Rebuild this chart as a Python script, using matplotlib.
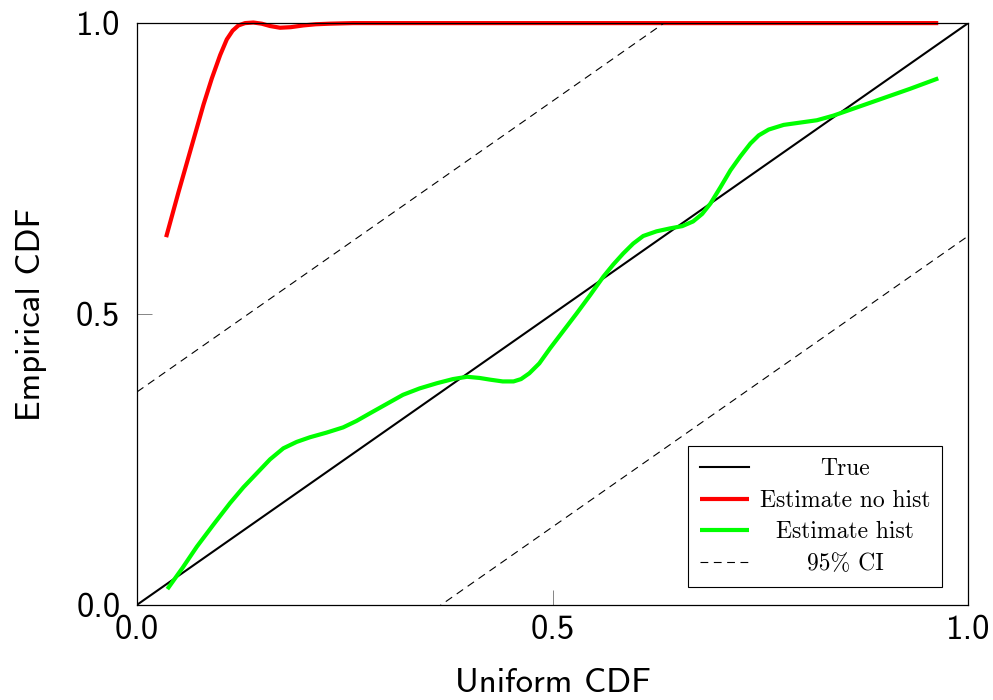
import matplotlib
matplotlib.use("Agg")
import matplotlib.pyplot as plt
from matplotlib.offsetbox import VPacker

# reference diagonal and 95% band (end points, axes clip the rest)
true_x = [0.0, 1.0]
true_y = [0.0, 1.0]
ci_upper = [0.366, 1.366]
ci_lower = [-0.366, 0.634]

# estimate without histogram correction
red_x = [0.035, 0.05, 0.065, 0.08, 0.09, 0.10, 0.108, 0.115, 0.122, 0.130,
         0.140, 0.150, 0.160, 0.172, 0.185, 0.200, 0.215, 0.232, 0.26, 0.964]
red_y = [0.632, 0.71, 0.785, 0.86, 0.905, 0.945, 0.972, 0.987, 0.996, 1.0,
         1.001, 0.999, 0.995, 0.992, 0.993, 0.996, 0.998, 0.999, 1.0, 1.0]

# estimate with histogram correction
green_x = [0.0365, 0.055, 0.072, 0.092, 0.112, 0.128, 0.144, 0.160, 0.176, 0.192,
           0.208, 0.228, 0.248, 0.264, 0.280, 0.300, 0.320, 0.340, 0.361, 0.380,
           0.397, 0.412, 0.425, 0.440, 0.453, 0.462, 0.472, 0.484, 0.497, 0.513,
           0.529, 0.545, 0.561, 0.573, 0.585, 0.597, 0.609, 0.625, 0.641, 0.656,
           0.669, 0.680, 0.690, 0.702, 0.714, 0.726, 0.738, 0.748, 0.760, 0.778,
           0.798, 0.818, 0.838, 0.858, 0.894, 0.930, 0.964]
green_y = [0.027, 0.064, 0.100, 0.138, 0.175, 0.202, 0.226, 0.250, 0.269, 0.280,
           0.288, 0.296, 0.305, 0.316, 0.329, 0.345, 0.361, 0.372, 0.381, 0.388,
           0.392, 0.390, 0.387, 0.384, 0.384, 0.388, 0.398, 0.415, 0.441, 0.471,
           0.501, 0.532, 0.564, 0.585, 0.604, 0.621, 0.634, 0.642, 0.647, 0.651,
           0.659, 0.672, 0.690, 0.718, 0.747, 0.771, 0.793, 0.807, 0.817, 0.825,
           0.829, 0.833, 0.841, 0.851, 0.869, 0.887, 0.905]

ticks = [0.0, 0.5, 1.0]
tick_labels = ["0.0", "0.5", "1.0"]

sans = "cmss10"
serif = "cmr10"

fig = plt.figure(figsize=(9.93, 7.0), dpi=100)
ax = fig.add_axes([0.138, 0.136, 0.837, 0.831])

ax.plot(true_x, true_y, color="black", lw=1.5, label="True")
ax.plot(red_x, red_y, color="red", lw=3, label="Estimate no hist",
        clip_on=False, solid_capstyle="butt", solid_joinstyle="round")
ax.plot(green_x, green_y, color="#00ff00", lw=3, label="Estimate hist",
        solid_capstyle="butt", solid_joinstyle="round")
ax.plot(true_x, ci_upper, color="black", lw=0.8, ls=(0, (7, 5)), label="95% CI")
ax.plot(true_x, ci_lower, color="black", lw=0.8, ls=(0, (7, 5)))

ax.set_xlim(0, 1)
ax.set_ylim(0, 1)
ax.set_xticks(ticks)
ax.set_yticks(ticks)
ax.set_xticklabels(tick_labels, family=sans, fontsize=25)
ax.set_yticklabels(tick_labels, family=sans, fontsize=25)
ax.tick_params(axis="both", direction="in", length=11, width=0.5, color="#555555")
ax.tick_params(axis="x", pad=7)
ax.tick_params(axis="y", pad=12)
for s in ax.spines.values():
    s.set_linewidth(0.9)

ax.set_xlabel("Uniform CDF", family=sans, fontsize=25, labelpad=16)
ax.set_ylabel("Empirical CDF", family=sans, fontsize=25, labelpad=21)

leg = ax.legend(loc="lower right", bbox_to_anchor=(0.9687, 0.0309), borderaxespad=0,
                prop={"family": serif, "size": 17}, fancybox=False, framealpha=1,
                edgecolor="black", handlelength=2.1, handletextpad=0.45,
                borderpad=0.5, labelspacing=0.4)
leg.get_frame().set_linewidth(0.8)

# center the legend entries inside a common text column
renderer = fig.canvas.get_renderer()
text_w = max(t.get_window_extent(renderer).width for t in leg.get_texts())
for column in leg._legend_handle_box.get_children():
    for row in column.get_children():
        parts = row.get_children()
        box = VPacker(children=[parts[1]], align="center", pad=0, sep=0, width=text_w)
        box.set_figure(fig)
        parts[1] = box

fig.savefig("out.png", dpi=100)
